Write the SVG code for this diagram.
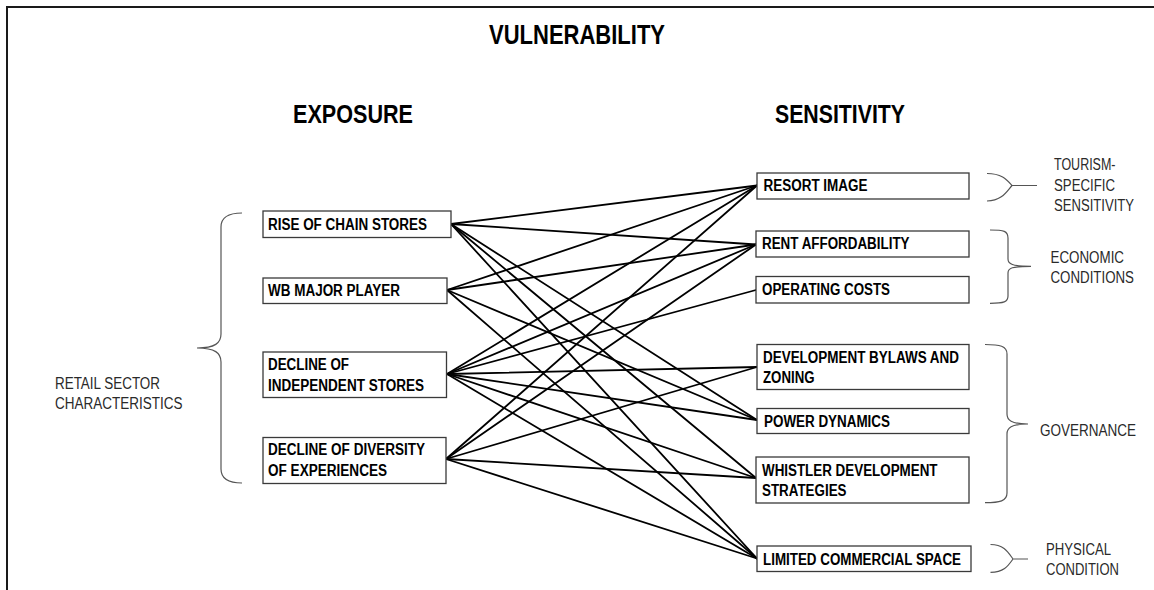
<svg xmlns="http://www.w3.org/2000/svg" width="1154" height="590" viewBox="0 0 1154 590">
<style>
.bg{fill:#fff}
.frame{fill:none;stroke:#1a1a1a;stroke-width:2}
.box{fill:#fff;stroke:#3a3a3a;stroke-width:1.3}
.bt{font-family:"Liberation Sans",Arial,sans-serif;font-weight:bold;font-size:16px;fill:#000}
.title{font-family:"Liberation Sans",Arial,sans-serif;font-weight:bold;fill:#000}
.lbl{font-family:"Liberation Sans",Arial,sans-serif;font-size:16px;fill:#2a2a2a}
.brace{fill:none;stroke:#555;stroke-width:1.2}
.conn line{stroke:#000;stroke-width:1.8;stroke-linecap:round}
</style>
<rect class="bg" x="0" y="0" width="1154" height="590"/>
<path class="frame" d="M7,590 L7,7 L1154,7"/>
<g id="titles">
<text class="title" x="489" y="44" font-size="28" textLength="176" lengthAdjust="spacingAndGlyphs">VULNERABILITY</text>
<text class="title" x="293" y="123" font-size="26" textLength="120" lengthAdjust="spacingAndGlyphs">EXPOSURE</text>
<text class="title" x="775" y="123" font-size="26" textLength="130" lengthAdjust="spacingAndGlyphs">SENSITIVITY</text>
</g>
<g id="connectors" class="conn">
<line x1="451" y1="224" x2="757" y2="185.5"/>
<line x1="451" y1="224" x2="756" y2="244.5"/>
<line x1="451" y1="224" x2="757" y2="420"/>
<line x1="451" y1="224" x2="756" y2="478"/>
<line x1="451" y1="224" x2="757" y2="558.5"/>
<line x1="447" y1="290" x2="757" y2="185.5"/>
<line x1="447" y1="290" x2="756" y2="244.5"/>
<line x1="447" y1="290" x2="757" y2="420"/>
<line x1="447" y1="290" x2="757" y2="558.5"/>
<line x1="447" y1="374" x2="757" y2="185.5"/>
<line x1="447" y1="374" x2="756" y2="244.5"/>
<line x1="447" y1="374" x2="756" y2="290"/>
<line x1="447" y1="374" x2="757" y2="367"/>
<line x1="447" y1="374" x2="757" y2="420"/>
<line x1="447" y1="374" x2="756" y2="478"/>
<line x1="447" y1="374" x2="757" y2="558.5"/>
<line x1="446" y1="459" x2="757" y2="185.5"/>
<line x1="446" y1="459" x2="756" y2="244.5"/>
<line x1="446" y1="459" x2="757" y2="367"/>
<line x1="446" y1="459" x2="756" y2="478"/>
<line x1="446" y1="459" x2="757" y2="558.5"/>
</g>
<g id="rise-of-chain-stores">
<rect class="box" x="263" y="211" width="188" height="26.5"/>
<text class="bt" x="268" y="230" textLength="159" lengthAdjust="spacingAndGlyphs">RISE OF CHAIN STORES</text>
</g>
<g id="wb-major-player">
<rect class="box" x="263" y="278" width="184" height="25.5"/>
<text class="bt" x="268" y="296" textLength="132" lengthAdjust="spacingAndGlyphs">WB MAJOR PLAYER</text>
</g>
<g id="decline-of-independent-stores">
<rect class="box" x="263" y="352" width="183.5" height="45.5"/>
<text class="bt" x="268" y="370" textLength="81" lengthAdjust="spacingAndGlyphs">DECLINE OF</text>
<text class="bt" x="268" y="390.5" textLength="156" lengthAdjust="spacingAndGlyphs">INDEPENDENT STORES</text>
</g>
<g id="decline-of-diversity">
<rect class="box" x="263" y="437.5" width="183" height="46"/>
<text class="bt" x="268" y="455" textLength="157" lengthAdjust="spacingAndGlyphs">DECLINE OF DIVERSITY</text>
<text class="bt" x="268" y="475.5" textLength="119" lengthAdjust="spacingAndGlyphs">OF EXPERIENCES</text>
</g>
<g id="resort-image">
<rect class="box" x="757" y="173" width="212" height="26"/>
<text class="bt" x="763.5" y="191" textLength="104" lengthAdjust="spacingAndGlyphs">RESORT IMAGE</text>
</g>
<g id="rent-affordability">
<rect class="box" x="756" y="231" width="213" height="26"/>
<text class="bt" x="762" y="249" textLength="147.5" lengthAdjust="spacingAndGlyphs">RENT AFFORDABILITY</text>
</g>
<g id="operating-costs">
<rect class="box" x="756" y="276.5" width="213" height="26.5"/>
<text class="bt" x="762" y="295" textLength="128" lengthAdjust="spacingAndGlyphs">OPERATING COSTS</text>
</g>
<g id="development-bylaws">
<rect class="box" x="757" y="344.5" width="212" height="45"/>
<text class="bt" x="763" y="362.5" textLength="196" lengthAdjust="spacingAndGlyphs">DEVELOPMENT BYLAWS AND</text>
<text class="bt" x="763" y="383" textLength="51.5" lengthAdjust="spacingAndGlyphs">ZONING</text>
</g>
<g id="power-dynamics">
<rect class="box" x="757" y="408.5" width="212" height="25"/>
<text class="bt" x="764" y="427" textLength="126" lengthAdjust="spacingAndGlyphs">POWER DYNAMICS</text>
</g>
<g id="whistler-development-strategies">
<rect class="box" x="756" y="457" width="213" height="46"/>
<text class="bt" x="762" y="476" textLength="175.5" lengthAdjust="spacingAndGlyphs">WHISTLER DEVELOPMENT</text>
<text class="bt" x="762" y="496" textLength="84.5" lengthAdjust="spacingAndGlyphs">STRATEGIES</text>
</g>
<g id="limited-commercial-space">
<rect class="box" x="757" y="546" width="214" height="25.5"/>
<text class="bt" x="763" y="564.5" textLength="198" lengthAdjust="spacingAndGlyphs">LIMITED COMMERCIAL SPACE</text>
</g>
<g id="retail-sector-characteristics">
<path class="brace" d="M242,213 C228,213 221,217 221,227 L221,334 C221,343 215,348 197,348 C215,348 221,353 221,362 L221,469 C221,479 228,483 242,483"/>
<text class="lbl" x="55" y="389" textLength="105" lengthAdjust="spacingAndGlyphs">RETAIL SECTOR</text>
<text class="lbl" x="55" y="408.5" textLength="127.5" lengthAdjust="spacingAndGlyphs">CHARACTERISTICS</text>
</g>
<g id="tourism-specific-sensitivity">
<path class="brace" d="M987,173.5 C1002,173.5 1007,180 1012,185.5 C1007,191 1002,201 987,201 M1012,185.5 L1037,185.5"/>
<text class="lbl" x="1054" y="170" textLength="61.5" lengthAdjust="spacingAndGlyphs">TOURISM-</text>
<text class="lbl" x="1054" y="190.5" textLength="61" lengthAdjust="spacingAndGlyphs">SPECIFIC</text>
<text class="lbl" x="1054" y="210.5" textLength="80" lengthAdjust="spacingAndGlyphs">SENSITIVITY</text>
</g>
<g id="economic-conditions">
<path class="brace" d="M990,230 C1004,230 1008,231 1008,238 L1008,259 C1008,264 1012,266.3 1031,266.3 C1012,266.3 1008,268 1008,273 L1008,296 C1008,302 1004,303.3 990,303.3"/>
<text class="lbl" x="1050.5" y="262.5" textLength="73.5" lengthAdjust="spacingAndGlyphs">ECONOMIC</text>
<text class="lbl" x="1050.5" y="282.5" textLength="83.5" lengthAdjust="spacingAndGlyphs">CONDITIONS</text>
</g>
<g id="governance">
<path class="brace" d="M985,344.5 C1000,344.5 1007,346 1007,354 L1007,414 C1007,420 1011,424 1028,424 C1011,424 1007,428 1007,434 L1007,493 C1007,501 1000,502.7 985,502.7"/>
<text class="lbl" x="1040" y="436" textLength="96" lengthAdjust="spacingAndGlyphs">GOVERNANCE</text>
</g>
<g id="physical-condition">
<path class="brace" d="M990.5,544.5 C1004,544.5 1008,552 1013,559 C1008,566 1004,572.3 990.5,572.3 M1013,559 L1028,559"/>
<text class="lbl" x="1046" y="555" textLength="65" lengthAdjust="spacingAndGlyphs">PHYSICAL</text>
<text class="lbl" x="1046" y="574.5" textLength="73" lengthAdjust="spacingAndGlyphs">CONDITION</text>
</g>
</svg>
